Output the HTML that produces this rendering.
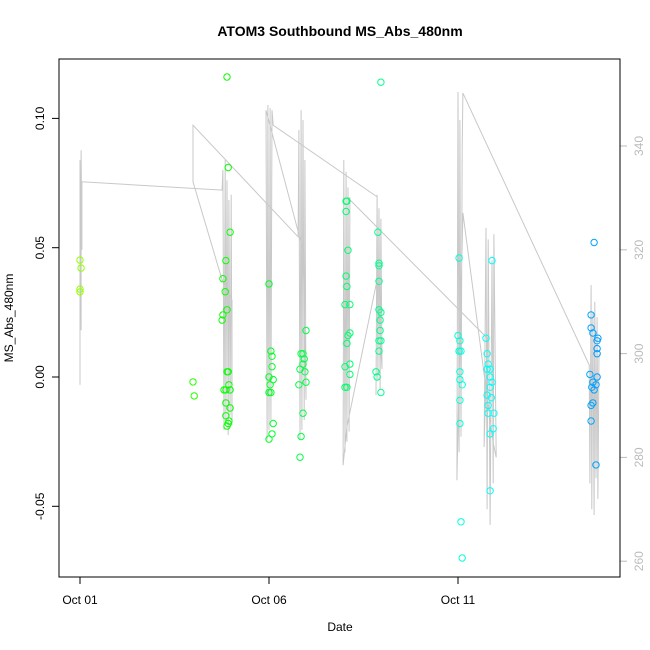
<!DOCTYPE html>
<html><head><meta charset="utf-8"><style>
body{margin:0;background:#fff}
svg{display:block;font-family:"Liberation Sans",sans-serif}
</style></head><body>
<svg id="chart" width="650" height="650" viewBox="0 0 650 650">
<text x="340" y="36" font-size="14" font-weight="bold" text-anchor="middle">ATOM3 Southbound MS_Abs_480nm</text>
<text x="340" y="631" font-size="12" text-anchor="middle">Date</text>
<text transform="translate(13,318) rotate(-90)" font-size="12" text-anchor="middle">MS_Abs_480nm</text>
<g id="track"></g>
<g id="pts"></g>
<g id="axes"></g>
<rect x="59" y="59" width="561" height="518" fill="none" stroke="#000" stroke-width="1"/>
</svg>
<script>
const xTickDays=[1,6,11];
const xTickLabels=["Oct 01","Oct 06","Oct 11"];
const yTicks=[-0.05,0,0.05,0.10];
const yTickLabels=["-0.05","0.00","0.05","0.10"];
const altTicks=[260,280,300,320,340];
const pointDay=[1,1.03,1,1,3.99,4.02,
4.89,4.92,4.97,4.86,4.78,4.84,4.89,4.78,4.76,4.89,4.92,4.94,4.97,4.81,4.86,4.97,4.86,4.94,4.92,4.89,4.86,
6.0,6.05,6.08,6.08,6.0,6.11,6.03,6.05,6.0,6.11,6.08,6.0,
6.98,6.85,6.90,6.93,6.90,6.95,6.82,6.98,6.79,6.90,6.85,6.82,
8.04,8.06,8.04,8.09,8.04,8.06,8.01,8.14,8.14,8.09,8.06,8.01,8.14,8.06,8.01,8.14,
8.96,8.88,8.91,8.91,8.91,8.91,8.96,8.94,8.94,8.91,8.96,8.91,8.83,8.86,8.96,
11.03,11.0,11.05,11.03,11.03,11.08,11.05,11.05,11.05,11.11,11.05,11.08,11.11,
11.74,11.77,11.80,11.77,11.85,11.85,11.90,11.85,11.77,11.80,11.95,11.80,11.85,11.93,11.85,11.90,11.88,
14.60,14.52,14.52,14.57,14.70,14.68,14.68,14.68,14.49,14.57,14.68,14.65,14.54,14.60,14.52,14.57,14.52,14.65];
const pointValue=[0.0452,0.0421,0.0340,0.0329,-0.0019,-0.0073,
0.116,0.081,0.056,0.045,0.038,0.033,0.026,0.024,0.022,0.002,0.002,-0.003,-0.005,-0.005,-0.010,-0.012,-0.015,-0.017,-0.018,-0.019,-0.005,
0.036,0.010,0.008,0.004,0.0,-0.001,-0.003,-0.006,-0.006,-0.018,-0.022,-0.024,
0.018,0.009,0.009,0.007,0.005,0.002,0.003,-0.002,-0.003,-0.014,-0.023,-0.031,
0.068,0.068,0.064,0.049,0.039,0.035,0.028,0.028,0.017,0.016,0.013,0.004,0.005,-0.004,-0.004,0.001,
0.114,0.056,0.044,0.043,0.037,0.026,0.025,0.022,0.018,0.014,0.014,0.010,0.002,0.0,-0.006,
0.046,0.016,0.014,0.010,0.010,0.010,0.002,-0.001,-0.009,-0.003,-0.018,-0.056,-0.070,
0.015,0.009,0.005,0.003,0.003,0.000,-0.002,-0.004,-0.007,-0.011,-0.014,-0.014,-0.022,-0.020,-0.044,0.045,-0.008,
0.052,0.024,0.019,0.017,0.015,0.014,0.011,0.009,0.001,-0.002,0.000,-0.003,-0.004,-0.005,-0.011,-0.010,-0.017,-0.034];
const trackDay=[1.00,1.00,1.03,1.03,1.05,1.05,
4.76,4.78,4.81,4.84,4.86,4.89,4.92,4.94,4.97,5.0,5.02,5.02,4.76,3.99,3.99,
6.77,6.79,6.82,6.85,6.87,6.90,6.93,6.95,6.98,6.90,
5.92,5.95,5.97,6.0,6.03,6.05,6.08,6.11,
8.86,8.83,8.86,8.88,8.91,8.94,8.96,8.99,8.86,
8.06,7.96,7.98,8.01,8.04,8.06,8.09,8.12,8.14,8.09,
11.77,11.69,11.74,11.77,11.80,11.85,11.90,11.93,11.95,12.01,11.93,
11.13,10.97,11.0,11.03,11.05,11.08,11.11,11.13,
14.47,14.49,14.52,14.54,14.57,14.60,14.62,14.65,14.68,14.70,14.73];
const trackAlt=[294.0,337.3,304.5,339.2,320.0,333.1,
331.5,335.4,285.3,337.3,287.2,333.4,284.3,329.6,288.2,330.6,286.2,310.3,314.2,333.1,344.0,
322.5,343.1,283.4,346.9,285.3,345.0,287.2,337.3,291.1,320.0,
346.9,283.4,347.9,285.3,347.3,287.2,346.9,344.0,
330.2,292.0,330.6,295.0,328.0,293.0,326.0,297.0,314.2,
285.9,278.5,337.3,281.0,335.0,283.0,332.0,285.0,330.0,330.0,
303.0,282.0,324.2,270.0,322.0,267.0,318.0,275.0,323.0,280.0,282.8,
327.1,275.6,350.4,281.0,345.0,284.0,340.0,350.2,
297.8,275.0,313.2,270.0,308.0,268.9,310.0,276.0,307.0,272.0,300.0];
const NS="http://www.w3.org/2000/svg";
function xs(d){return 80+(d-1)*37.8;}
function ys(v){return 377-v*2586;}
function ya(a){return 146+(340-a)*5.19;}
function mk(t,at,parent){const e=document.createElementNS(NS,t);for(const k in at)e.setAttribute(k,at[k]);parent.appendChild(e);return e;}
const track=document.getElementById('track'),pts=document.getElementById('pts'),axes=document.getElementById('axes');
let d="";
for(let i=0;i<trackDay.length;i++){d+=(i?"L":"M")+xs(trackDay[i]).toFixed(1)+" "+ya(trackAlt[i]).toFixed(1);}
const tl=mk('path',{d:d,fill:"none",stroke:"#c8c8c8","stroke-width":1},track);


for(let i=0;i<pointDay.length;i++){
 const hue=85+8.6*(pointDay[i]-1);
 const c=mk('circle',{cx:xs(pointDay[i]).toFixed(1),cy:ys(pointValue[i]).toFixed(1),r:3.2,fill:"none",stroke:"hsl("+hue.toFixed(0)+",100%,50%)","stroke-width":1},pts);
 
 
}
// bottom axis
const bl=mk('line',{x1:xs(xTickDays[0]),x2:xs(xTickDays[xTickDays.length-1]),y1:577,y2:577,stroke:"#000"},axes);


xTickDays.forEach((t,i)=>{
 mk('line',{x1:xs(t),x2:xs(t),y1:577,y2:584,stroke:"#000"},axes);
 const tx=mk('text',{x:xs(t),y:604,"font-size":12,"text-anchor":"middle"},axes);
 tx.textContent=xTickLabels[i];
 
 
});
const ll=mk('line',{x1:59,x2:59,y1:ys(yTicks[0]),y2:ys(yTicks[yTicks.length-1]),stroke:"#000"},axes);


yTicks.forEach((t,i)=>{
 const y=ys(t);
 mk('line',{x1:52,x2:59,y1:y,y2:y,stroke:"#000"},axes);
 const tx=mk('text',{transform:"translate(44,"+y+") rotate(-90)","font-size":12,"text-anchor":"middle"},axes);
 tx.textContent=yTickLabels[i];
 
 
});
mk('line',{x1:620,x2:620,y1:ya(340),y2:ya(260),stroke:"#bbb"},axes);
altTicks.forEach(t=>{
 const y=ya(t);
 mk('line',{x1:620,x2:627,y1:y,y2:y,stroke:"#bbb"},axes);
 const tx=mk('text',{transform:"translate(643,"+y+") rotate(-90)","font-size":12,"text-anchor":"middle",fill:"#bbb"},axes);
 tx.textContent=t;
 
 
});
</script>
</body></html>
